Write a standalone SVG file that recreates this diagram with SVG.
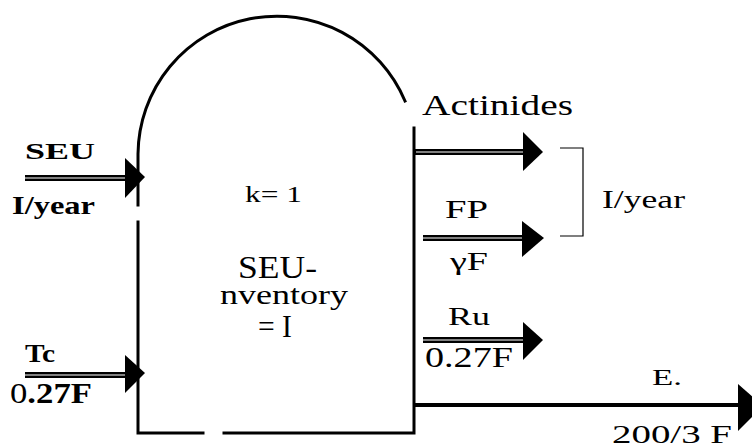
<svg xmlns="http://www.w3.org/2000/svg" width="752" height="444" viewBox="0 0 752 444">
<defs>
<marker id="unused" markerWidth="1" markerHeight="1"/>
</defs>
<rect width="752" height="444" fill="#fff"/>
<g id="vessel" fill="none" stroke="#000" stroke-width="3" stroke-linecap="square">
<path d="M138,205 L138,154 A139,139 0 0 1 405,101"/>
<path d="M138,222 L138,433 L203,433"/>
<path d="M224,433 L414,433 L414,128"/>
</g>
<g id="vessel-text">
<text x="245" y="202" font-family="'Liberation Serif', serif" font-size="24" textLength="57" lengthAdjust="spacingAndGlyphs">k= 1</text>
<text x="238" y="278" font-family="'Liberation Serif', serif" font-size="32" textLength="79" lengthAdjust="spacingAndGlyphs">SEU-</text>
<text x="220" y="304" font-family="'Liberation Serif', serif" font-size="27" textLength="128" lengthAdjust="spacingAndGlyphs">nventory</text>
<text x="258" y="337" font-family="'Liberation Serif', serif" font-size="31" textLength="34" lengthAdjust="spacingAndGlyphs">= I</text>
</g>
<g id="connectors">
<g id="in-seu">
<line x1="25" y1="178" x2="127" y2="178" stroke="#000" stroke-width="6"/>
<line x1="25" y1="178" x2="125" y2="178" stroke="#fff" stroke-width="1.2"/>
<polygon points="125,158 145,177 125,198" fill="#000"/>
</g>
<g id="in-tc">
<line x1="25" y1="375" x2="127" y2="375" stroke="#000" stroke-width="6"/>
<line x1="25" y1="375" x2="125" y2="375" stroke="#fff" stroke-width="1.2"/>
<polygon points="125,355 145,373 125,393" fill="#000"/>
</g>
<g id="out-actinides">
<line x1="414" y1="152" x2="525" y2="152" stroke="#000" stroke-width="6"/>
<line x1="416" y1="152" x2="523" y2="152" stroke="#fff" stroke-width="1.2"/>
<polygon points="523,132 543,152 523,171" fill="#000"/>
</g>
<g id="out-fp">
<line x1="423" y1="238" x2="525" y2="238" stroke="#000" stroke-width="6"/>
<line x1="423" y1="238" x2="523" y2="238" stroke="#fff" stroke-width="1.2"/>
<polygon points="522,221 544,238 522,257" fill="#000"/>
</g>
<g id="out-ru">
<line x1="423" y1="340" x2="525" y2="340" stroke="#000" stroke-width="6"/>
<line x1="423" y1="340" x2="523" y2="340" stroke="#fff" stroke-width="1.2"/>
<polygon points="523,322 543,340 523,360" fill="#000"/>
</g>
<g id="out-e">
<line x1="414" y1="405" x2="742" y2="405" stroke="#000" stroke-width="4"/>
<polygon points="738,384 763,406 738,431" fill="#000"/>
</g>
</g>
<g id="bracket">
<polyline points="560,148 583,148 583,236 560,236" fill="none" stroke="#000" stroke-width="1.2"/>
</g>
<g id="labels">
<text x="25" y="159" font-family="'Liberation Serif', serif" font-weight="bold" font-size="24" textLength="70" lengthAdjust="spacingAndGlyphs">SEU</text>
<text x="12" y="214" font-family="'Liberation Serif', serif" font-weight="bold" font-size="26" textLength="83" lengthAdjust="spacingAndGlyphs">I/year</text>
<text x="25" y="362" font-family="'Liberation Serif', serif" font-weight="bold" font-size="25" textLength="30" lengthAdjust="spacingAndGlyphs">Tc</text>
<text x="10" y="403" font-family="'Liberation Serif', serif" font-size="29" textLength="82" lengthAdjust="spacingAndGlyphs">0<tspan font-weight="bold">.27F</tspan></text>
<text x="422" y="115" font-family="'Liberation Serif', serif" font-size="29" textLength="151" lengthAdjust="spacingAndGlyphs">Actinides</text>
<text x="602" y="208" font-family="'Liberation Serif', serif" font-size="26" textLength="83" lengthAdjust="spacingAndGlyphs">I/year</text>
<text x="445" y="218" font-family="'Liberation Serif', serif" font-size="25" textLength="43" lengthAdjust="spacingAndGlyphs">FP</text>
<text x="450" y="270" font-family="'Liberation Serif', serif" font-size="26" textLength="38" lengthAdjust="spacingAndGlyphs">γF</text>
<text x="448" y="325" font-family="'Liberation Serif', serif" font-size="26" textLength="42" lengthAdjust="spacingAndGlyphs">Ru</text>
<text x="425" y="367" font-family="'Liberation Serif', serif" font-size="29" textLength="88" lengthAdjust="spacingAndGlyphs">0.27F</text>
<text x="652" y="385" font-family="'Liberation Serif', serif" font-size="24" textLength="30" lengthAdjust="spacingAndGlyphs">E.</text>
<text x="612" y="443" font-family="'Liberation Serif', serif" font-size="25" textLength="120" lengthAdjust="spacingAndGlyphs">200/3 F</text>
</g>
</svg>
